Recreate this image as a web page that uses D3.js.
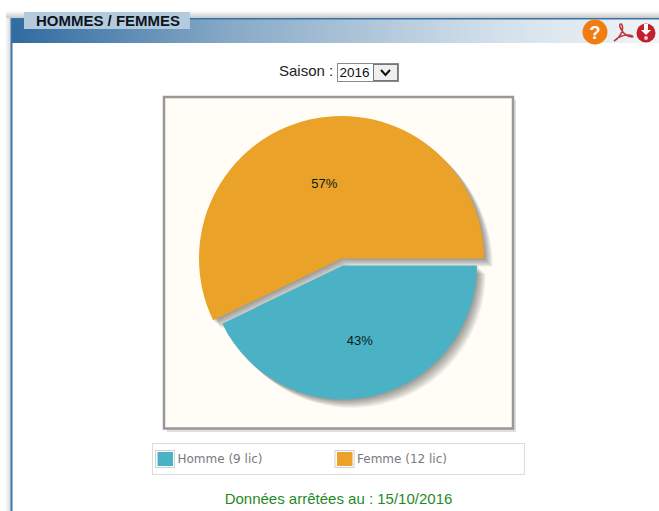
<!DOCTYPE html>
<html><head><meta charset="utf-8">
<script src="https://cdnjs.cloudflare.com/ajax/libs/d3/7.8.5/d3.min.js"></script>
<style>html,body{margin:0;padding:0;background:#fff;overflow:hidden}svg{display:block}</style>
</head><body><svg id="c" width="659" height="511"></svg>
<script>
const categories = ["Homme", "Femme"];
const licences = [9, 12];
const percentLabels = ["43%", "57%"];
const legendLabels = ["Homme (9 lic)", "Femme (12 lic)"];
const sliceColors = ["#4bb2c5", "#eaa228"];
const titleText = "HOMMES / FEMMES";
const seasonLabel = "Saison :";
const seasonValue = "2016";
const footerText = "Données arrêtées au : 15/10/2016";

const svg = d3.select("#c");
const defs = svg.append("defs");
const sans = "'Liberation Sans', Arial, sans-serif";

function box(x, y, w, h, fill, stroke, sw) {
  return svg.append("rect").attr("x", x).attr("y", y).attr("width", w).attr("height", h)
    .attr("fill", fill).attr("stroke", stroke || "none").attr("stroke-width", sw || 0);
}

// page frame
const grad = defs.append("linearGradient").attr("id", "hdr");
[[0, "#2f6b9f"], [0.35, "#8aabc8"], [0.75, "#d3e0ea"], [1, "#f1f5f8"]].forEach(s =>
  grad.append("stop").attr("offset", s[0]).attr("stop-color", s[1]));
const topShade = defs.append("linearGradient").attr("id", "shade").attr("x2", 0).attr("y2", 1);
topShade.append("stop").attr("offset", 0).attr("stop-color", "#fff");
topShade.append("stop").attr("offset", 1).attr("stop-color", "#c8c8c8");
const sideShade = defs.append("linearGradient").attr("id", "side");
sideShade.append("stop").attr("offset", 0).attr("stop-color", "#fff");
sideShade.append("stop").attr("offset", 1).attr("stop-color", "#d8d8d8");
box(6, 11, 653, 7, "url(#shade)");
box(5, 18, 6, 493, "url(#side)");
box(11, 18, 648, 25, "url(#hdr)");
box(11, 18, 648, 1.5, "#3474a8");
box(10.5, 18, 2, 493, "#3a77a9");
box(24, 12, 166, 17, "#b4cadd");
svg.append("text").attr("x", 36).attr("y", 25.5).attr("font-family", sans).attr("font-weight", "bold")
  .attr("font-size", 14.5).attr("fill", "#0c1420").attr("textLength", 144)
  .attr("lengthAdjust", "spacingAndGlyphs").text(titleText);

// toolbar icons
svg.append("circle").attr("cx", 595).attr("cy", 32).attr("r", 12.5).attr("fill", "#f07c12");
svg.append("text").attr("x", 595).attr("y", 38.5).attr("text-anchor", "middle").attr("font-family", sans)
  .attr("font-weight", "bold").attr("font-size", 18).attr("fill", "#fff").text("?");
svg.append("path").attr("d", "M614 41 C620 38 624 30 622 25 C621 23 619 24 620 27 C622 33 626 36 632 37 C634 37 632 35 628 35 C624 35 618 37 614 41Z")
  .attr("fill", "none").attr("stroke", "#c4383c").attr("stroke-width", 1.6);
svg.append("circle").attr("cx", 646).attr("cy", 33).attr("r", 9.5).attr("fill", "#c3202d");
svg.append("path").attr("d", "M644 24H648V30H651L646 35L641 30H644Z").attr("fill", "#fff");
svg.append("circle").attr("cx", 646).attr("cy", 38).attr("r", 2).attr("fill", "#f3c5c8");

// season selector
svg.append("text").attr("x", 279).attr("y", 76).attr("font-family", sans).attr("font-size", 15).attr("fill", "#222").text(seasonLabel);
box(337.5, 63.5, 61, 18, "#fff", "#8a8a8a", 1);
svg.append("text").attr("x", 339.5).attr("y", 77).attr("font-family", sans).attr("font-size", 13.5).attr("fill", "#111").text(seasonValue);
box(373.5, 64.5, 24, 16, "#efefef", "#777", 1);
svg.append("path").attr("d", "M381 70L385.5 75L390 70").attr("fill", "none").attr("stroke", "#111").attr("stroke-width", 2);

// plot panel
box(167, 100, 349, 332, "#dedede");
box(164, 97, 349, 331.5, "#fffdf6", "#989898", 2.5);

// pie
const pie = d3.pie().value(d => d).sort(null).startAngle(Math.PI / 2).endAngle(Math.PI * 2.5);
const arcs = pie(licences);
const geometry = [{ cx: 343, cy: 265.5, r: 134 }, { cx: 341.5, cy: 258.5, r: 142.5 }];
const arcGen = d3.arc().innerRadius(0);

const shadowSteps = [1.5, 3, 4.5, 6, 7.5, 9, 10.5, 12];
arcs.forEach((a, i) => {
  const g = geometry[i];
  shadowSteps.forEach(s => {
    svg.append("path").attr("d", arcGen.outerRadius(g.r)(a))
      .attr("transform", `translate(${g.cx + s * 0.72},${g.cy + s * 0.69})`)
      .attr("fill", "#000").attr("opacity", 0.055);
  });
});
arcs.forEach((a, i) => {
  const g = geometry[i];
  svg.append("path").attr("d", arcGen.outerRadius(g.r)(a))
    .attr("transform", `translate(${g.cx},${g.cy})`).attr("fill", sliceColors[i]);
});

// percent labels
const labelRadius = [g => g.r * 0.565, g => g.r * 0.544];
arcs.forEach((a, i) => {
  const g = geometry[i];
  const [x, y] = d3.arc().innerRadius(0).outerRadius(labelRadius[i](g) * 2).centroid(a);
  svg.append("text").attr("x", g.cx + x).attr("y", g.cy + y + 5.5).attr("text-anchor", "middle")
    .attr("font-family", sans).attr("font-size", 13).attr("fill", "#0a1a22").text(percentLabels[i]);
});

// legend
box(152.5, 443.5, 372, 31, "#fff", "#dcdcdc", 1);
const legendX = d3.scaleOrdinal().domain(categories).range([155.5, 335]);
categories.forEach((c, i) => {
  const x = legendX(c);
  box(x, 450.5, 19, 17, "#fff", "#d0d0d0", 1);
  box(x + 2, 452, 15.5, 14, sliceColors[i]);
  svg.append("text").attr("x", x + 22).attr("y", 463).attr("font-family", "'DejaVu Sans', sans-serif")
    .attr("font-size", 12).attr("fill", "#777a80").text(legendLabels[i]);
});

// footer
svg.append("text").attr("x", 338.5).attr("y", 504).attr("text-anchor", "middle").attr("font-family", sans)
  .attr("font-size", 15).attr("fill", "#1f8a1f").text(footerText);
</script></body></html>
